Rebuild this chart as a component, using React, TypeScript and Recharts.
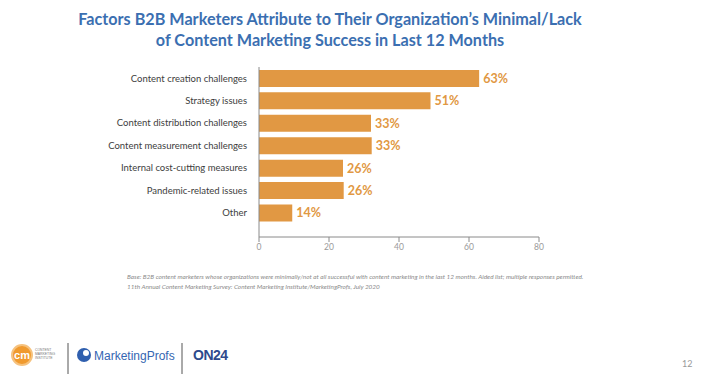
import { BarChart, Bar, XAxis, YAxis, LabelList } from 'recharts';

const categories = [
  'Content creation challenges',
  'Strategy issues',
  'Content distribution challenges',
  'Content measurement challenges',
  'Internal cost-cutting measures',
  'Pandemic-related issues',
  'Other',
];
// bar lengths as drawn in the source slide
const barLengths = [62.9, 49, 32, 32.2, 24, 24.2, 9.5];
// printed percentage labels
const shares = [63, 51, 33, 33, 26, 26, 14];
const xTicks = [0, 20, 40, 60, 80];

const data = categories.map((name, i) => ({
  name,
  value: barLengths[i],
  label: `${shares[i]}%`,
}));

const ORANGE = '#E19843';
const BLUE = '#3B6FB1';

export default function App() {
  return (
    <div
      style={{
        position: 'absolute',
        top: 0,
        left: 0,
        width: 701,
        height: 375,
        background: '#fff',
        fontFamily: 'Lato, sans-serif',
        overflow: 'hidden',
      }}
    >
      <div
        style={{
          position: 'absolute',
          top: 8,
          left: 0,
          width: 660,
          textAlign: 'center',
          color: BLUE,
          fontWeight: 700,
          fontSize: 16.2,
          lineHeight: '21px',
        }}
      >
        Factors B2B Marketers Attribute to Their Organization’s Minimal/Lack
        <br />
        of Content Marketing Success in Last 12 Months
      </div>

      <div style={{ position: 'absolute', top: 0, left: 0 }}>
        <BarChart
          width={701}
          height={375}
          data={data}
          layout="vertical"
          margin={{ top: 67, right: 162, bottom: 108, left: 0 }}
          barCategoryGap="13%"
        >
          <XAxis
            type="number"
            domain={[0, 80]}
            ticks={xTicks}
            height={30}
            stroke="#8a8a8a"
            tickSize={5}
            tick={{ fill: '#9a9a9a', fontSize: 8.5, fontFamily: 'Lato' }}
          />
          <YAxis
            type="category"
            dataKey="name"
            width={259}
            stroke="#8a8a8a"
            tickLine={false}
            tickSize={0}
            tickMargin={12}
            padding={{ top: 0, bottom: 13 }}
            tick={{ fill: '#3d3d3d', fontSize: 9.5, fontFamily: 'Lato' }}
          />
          <Bar dataKey="value" fill={ORANGE} isAnimationActive={false}>
            <LabelList
              dataKey="label"
              position="right"
              offset={4}
              fill={ORANGE}
              fontWeight={700}
              fontSize={12.5}
              fontFamily="Lato"
            />
          </Bar>
        </BarChart>
      </div>

      <div
        style={{
          position: 'absolute',
          top: 272,
          left: 127,
          fontSize: 6.4,
          fontStyle: 'italic',
          color: '#8a8a8a',
          lineHeight: '10px',
          whiteSpace: 'nowrap',
        }}
      >
        Base: B2B content marketers whose organizations were minimally/not at all successful with content marketing in the last 12 months. Aided list; multiple responses permitted.
        <br />
        11th Annual Content Marketing Survey: Content Marketing Institute/MarketingProfs, July 2020
      </div>

      {/* footer logos */}
      <svg
        width={260}
        height={40}
        style={{ position: 'absolute', top: 338, left: 0 }}
      >
        <circle cx={22} cy={17} r={10} fill="#F09A2E" stroke="#f6c27e" strokeWidth={2} />
        <text x={22} y={21} textAnchor="middle" fontSize={11} fontWeight={700} fill="#fff" fontFamily="Arial">
          cm
        </text>
        <text x={35} y={13} fontSize={3.4} fill="#777" fontFamily="Arial">CONTENT</text>
        <text x={35} y={17} fontSize={3.4} fill="#777" fontFamily="Arial">MARKETING</text>
        <text x={35} y={21} fontSize={3.4} fill="#777" fontFamily="Arial">INSTITUTE</text>
        <line x1={68} y1={5} x2={68} y2={36} stroke="#555" strokeWidth={1} />
        <circle cx={84} cy={17} r={7} fill="#2F5FAE" />
        <circle cx={86} cy={15} r={3} fill="#fff" />
        <text x={94} y={22} fontSize={12} fill="#3566B2" fontFamily="Arial">
          MarketingProfs
        </text>
        <line x1={182} y1={5} x2={182} y2={36} stroke="#555" strokeWidth={1} />
        <text x={193} y={22} fontSize={14} fontWeight={700} fill="#2E4A8C" fontFamily="Arial" letterSpacing={-0.5}>
          ON24
        </text>
      </svg>

      <div
        style={{
          position: 'absolute',
          top: 358,
          left: 682,
          fontSize: 9,
          color: '#999',
        }}
      >
        12
      </div>
    </div>
  );
}
